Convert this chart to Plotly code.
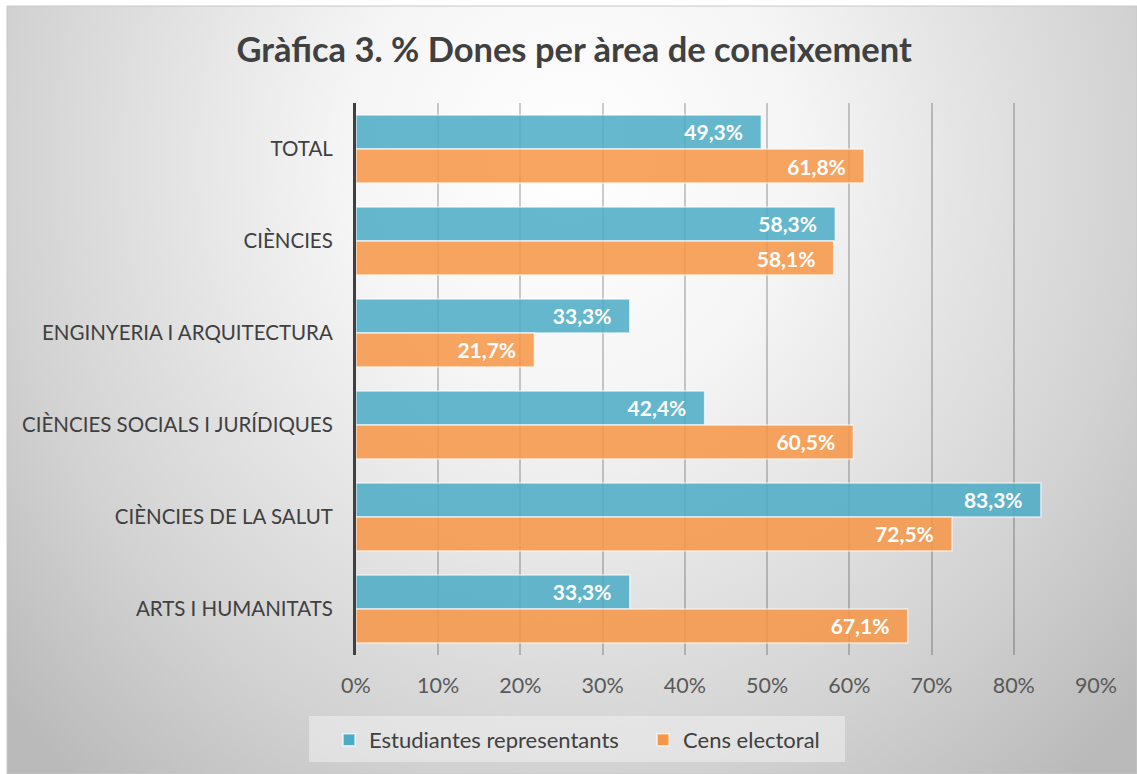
import plotly.graph_objects as go

# dades llegides de la gràfica (de dalt a baix)
areas = [
    "TOTAL",
    "CIÈNCIES",
    "ENGINYERIA I ARQUITECTURA",
    "CIÈNCIES SOCIALS I JURÍDIQUES",
    "CIÈNCIES DE LA SALUT",
    "ARTS I HUMANITATS",
]
estudiants = [0.493, 0.583, 0.333, 0.424, 0.833, 0.333]
cens = [0.618, 0.581, 0.217, 0.605, 0.725, 0.671]

FONT = "Lato, 'Open Sans', sans-serif"
TEAL = "#4BACC6"
ORANGE = "#F79646"
PAD = "\u00a0\u00a0\u00a0"  # marge dret de les etiquetes

fig = go.Figure()

# fons amb degradat radial (subplot xy que ocupa tota l'àrea)
fig.add_trace(go.Scatter(
    x=[-0.17, 1.17, 1.17, -0.17, -0.17],
    y=[-0.27, -0.27, 1.87, 1.87, -0.27],
    mode="lines", fill="toself", line=dict(width=0),
    fillgradient=dict(type="radial", colorscale=[
        [0, "#ffffff"], [0.3, "#f5f5f5"], [0.75, "#d2d2d2"], [1, "#bababa"]]),
    hoverinfo="skip", showlegend=False, xaxis="x", yaxis="y",
))

for name, vals, col in [("Estudiantes representants", estudiants, TEAL),
                        ("Cens electoral", cens, ORANGE)]:
    fig.add_trace(go.Bar(
        y=areas, x=vals, name=name, orientation="h",
        xaxis="x2", yaxis="y2",
        marker=dict(color=col, opacity=0.85,
                    line=dict(color="rgba(255,255,255,0.7)", width=1.5)),
        texttemplate="%{x:.1%}" + PAD, textposition="inside", insidetextanchor="end",
        textfont=dict(family=FONT, size=21, color="white", weight="bold"),
    ))

fig.update_layout(
    width=1137, height=774,
    margin=dict(l=7, r=0, t=6, b=0, autoexpand=False),
    paper_bgcolor="white", plot_bgcolor="rgba(0,0,0,0)",
    separators=",.",
    barmode="group", bargap=0.26, bargroupgap=0,
    font=dict(family=FONT, size=20, color="#595959"),
    title=dict(text="<b>Gràfica 3. % Dones per àrea de coneixement</b>",
               x=0.505, xanchor="center", y=0.935, yanchor="middle",
               font=dict(family=FONT, size=34.5, color="#404040")),
    xaxis=dict(domain=[0, 1], range=[0, 1], visible=False, fixedrange=True,
               automargin=False),
    yaxis=dict(domain=[0, 1], range=[0, 1], visible=False, fixedrange=True,
               automargin=False),
    xaxis2=dict(domain=[0.3088, 0.9637], range=[0, 0.9], dtick=0.1,
                tickformat=".0%", anchor="y2", automargin=False,
                showgrid=True, gridcolor="rgba(0,0,0,0.2)", gridwidth=2,
                zeroline=False, showline=False, ticks="", ticklabelstandoff=16,
                tickfont=dict(size=21.5, color="#595959")),
    yaxis2=dict(domain=[0.155, 0.8737], anchor="x2", autorange="reversed",
                automargin=False,
                showline=True, linecolor="#404040", linewidth=3,
                ticks="", ticklabelstandoff=16,
                tickfont=dict(size=20.5, color="#404040")),
    legend=dict(orientation="h", x=0.285, y=0.0443, xanchor="left", yanchor="middle",
                bgcolor="rgba(0,0,0,0)", borderwidth=0,
                font=dict(size=22, color="#404040"),
                entrywidth=269, itemwidth=30),
    shapes=[
        # caixa de la llegenda
        dict(type="rect", xref="paper", yref="paper",
             x0=0.2673, x1=0.7416, y0=0.0156, y1=0.0755,
             fillcolor="rgba(240,240,240,0.55)", line=dict(width=0), layer="above"),
        # vora de l'àrea del gràfic
        dict(type="rect", xref="paper", yref="paper", x0=0, x1=1, y0=0, y1=1,
             fillcolor="rgba(0,0,0,0)", line=dict(color="#c8c8c8", width=1)),
    ],
)

fig.write_html("out.html", config={"displayModeBar": False},
               post_script="document.body.style.margin='0';")
